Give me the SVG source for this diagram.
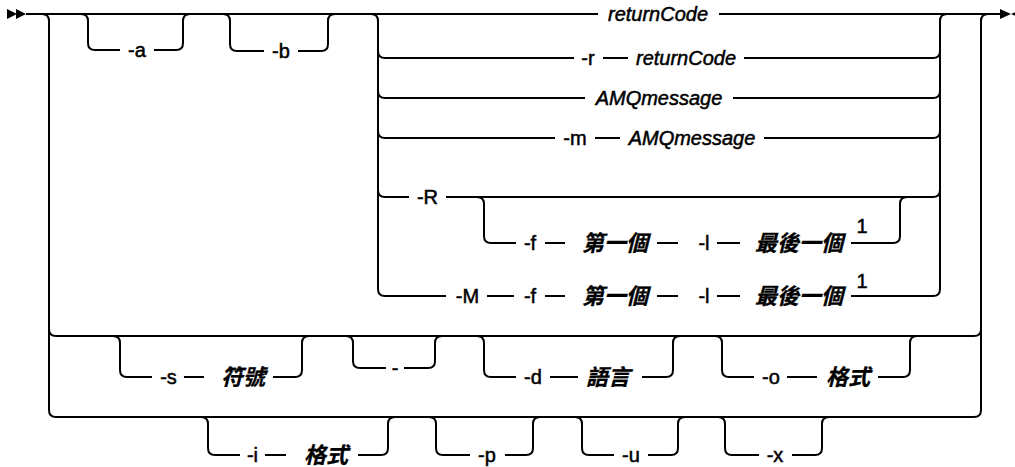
<svg xmlns="http://www.w3.org/2000/svg" width="1015" height="467" viewBox="0 0 1015 467">
<style>
.ln{fill:none;stroke:#000;stroke-width:2;stroke-linecap:butt}
.mk{fill:#000;stroke:none}
text{font-family:"Liberation Sans",Arial,"Noto Sans CJK TC",sans-serif;font-size:20px;fill:#000;stroke:#000;stroke-width:0.5;text-anchor:middle}
.v{font-style:italic}
.c{font-family:"Noto Sans CJK TC","Noto Sans CJK JP",sans-serif;font-size:22px;font-style:italic;font-weight:700;stroke-width:0.3}
</style>
<rect width="1015" height="467" fill="#fff"/>
<g id="connectors">
<polygon class="mk" points="7,9 7,19 17,14"/>
<polygon class="mk" points="16,9 16,19 26,14"/>
<polygon class="mk" points="1000,9 1000,19 1011,14"/>
<polygon class="mk" points="1022,9 1022,19 1011,14"/>
<path class="ln" d="M26,14 H598 M719,14 H1000"/>
<path class="ln" d="M42,14 Q49,14 49,21 V410 Q49,417 56,417 H974 Q981,417 981,410 V21 Q981,14 988,14"/>
<path class="ln" d="M49,329 Q49,336 56,336 H974 Q981,336 981,329"/>
<path class="ln" d="M81,14 Q88,14 88,21 V43 Q88,50 95,50 H120 M154,50 H176 Q183,50 183,43 V21 Q183,14 190,14"/>
<path class="ln" d="M223,14 Q230,14 230,21 V44 Q230,51 237,51 H264 M298,51 H321 Q328,51 328,44 V21 Q328,14 335,14"/>
<path class="ln" d="M371,14 Q378,14 378,21 V289 Q378,296 385,296 H446"/>
<path class="ln" d="M933,296 Q940,296 940,289 V21 Q940,14 947,14"/>
<path class="ln" d="M378,51 Q378,58 385,58 H574 M603,58 H628 M744,58 H933 Q940,58 940,51"/>
<path class="ln" d="M378,91 Q378,98 385,98 H585 M733,98 H933 Q940,98 940,91"/>
<path class="ln" d="M378,131 Q378,138 385,138 H555 M595,138 H620 M764,138 H933 Q940,138 940,131"/>
<path class="ln" d="M378,190 Q378,197 385,197 H409 M446,197 H933 Q940,197 940,190"/>
<path class="ln" d="M477,197 Q484,197 484,204 V236 Q484,243 491,243 H516 M545,243 H565 M657,243 H678 M717,243 H740 M851,243 H893 Q900,243 900,236 V204 Q900,197 907,197"/>
<path class="ln" d="M487,296 H514 M545,296 H565 M657,296 H678 M717,296 H740 M851,296 H933"/>
<path class="ln" d="M113,336 Q120,336 120,343 V370 Q120,377 127,377 H152 M184,377 H204 M273,377 H295 Q302,377 302,370 V343 Q302,336 309,336"/>
<path class="ln" d="M346,336 Q353,336 353,343 V361 Q353,368 360,368 H386 M404,368 H428 Q435,368 435,361 V343 Q435,336 442,336"/>
<path class="ln" d="M477,336 Q484,336 484,343 V370 Q484,377 491,377 H516 M550,377 H578 M642,377 H666 Q673,377 673,370 V343 Q673,336 680,336"/>
<path class="ln" d="M715,336 Q722,336 722,343 V370 Q722,377 729,377 H754 M787,377 H817 M878,377 H903 Q910,377 910,370 V343 Q910,336 917,336"/>
<path class="ln" d="M201,417 Q208,417 208,424 V448 Q208,455 215,455 H240 M265,455 H286 M358,455 H381 Q388,455 388,448 V424 Q388,417 395,417"/>
<path class="ln" d="M429,417 Q436,417 436,424 V448 Q436,455 443,455 H470 M505,455 H526 Q533,455 533,448 V424 Q533,417 540,417"/>
<path class="ln" d="M575,417 Q582,417 582,424 V448 Q582,455 589,455 H614 M648,455 H671 Q678,455 678,448 V424 Q678,417 685,417"/>
<path class="ln" d="M718,417 Q725,417 725,424 V448 Q725,455 732,455 H759 M792,455 H815 Q822,455 822,448 V424 Q822,417 829,417"/>
</g>
<g id="opt-a"><text x="137" y="57">-a</text></g>
<g id="opt-b"><text x="281" y="58">-b</text></g>
<g id="returncode"><text class="v" x="658" y="21">returnCode</text></g>
<g id="r-returncode"><text x="588" y="65">-r</text><text class="v" x="686" y="65">returnCode</text></g>
<g id="amqmessage"><text class="v" x="659" y="105">AMQmessage</text></g>
<g id="m-amqmessage"><text x="575" y="145">-m</text><text class="v" x="692" y="145">AMQmessage</text></g>
<g id="opt-R"><text x="427.5" y="204">-R</text></g>
<g id="f-l"><text x="530" y="250">-f</text><text class="c" x="615" y="251">第一個</text><text x="704" y="250">-l</text><text class="c" x="799" y="251">最後一個</text><text x="862" y="233">1</text></g>
<g id="M-f-l"><text x="467.5" y="303">-M</text><text x="530" y="303">-f</text><text class="c" x="615" y="304">第一個</text><text x="704" y="303">-l</text><text class="c" x="799" y="304">最後一個</text><text x="862" y="288">1</text></g>
<g id="opt-s"><text x="168.5" y="384">-s</text><text class="c" x="243" y="385">符號</text></g>
<g id="opt-dash"><text x="395" y="375">-</text></g>
<g id="opt-d"><text x="533" y="384">-d</text><text class="c" x="608" y="385">語言</text></g>
<g id="opt-o"><text x="771" y="384">-o</text><text class="c" x="848" y="385">格式</text></g>
<g id="opt-i"><text x="252.5" y="462">-i</text><text class="c" x="326" y="463">格式</text></g>
<g id="opt-p"><text x="487" y="462">-p</text></g>
<g id="opt-u"><text x="631" y="462">-u</text></g>
<g id="opt-x"><text x="775" y="462">-x</text></g>
</svg>
